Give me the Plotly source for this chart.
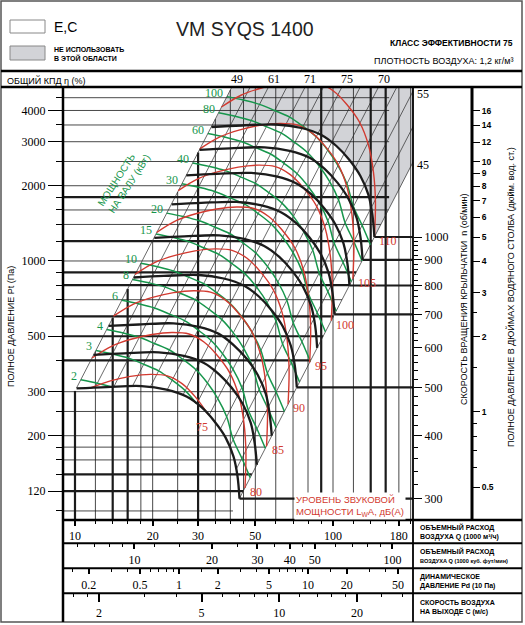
import numpy as np
import plotly.graph_objects as go

# ---------------- chart data (read from the VM SYQS 1400 sheet) ----------------
# flow Q in 1000 m3/h, total pressure Pt in Pa

# fan curves at constant speed n (rpm)
speeds = [300, 350, 400, 500, 600, 700, 800, 900, 1000]
speed_q = {
    300: [10.14, 13.26, 18.09, 22.62, 27.06, 30.93, 34.74, 38.31, 41.16, 42.63, 43.41],
    350: [11.8, 15.5, 21.1, 26.4, 31.6, 36.1, 40.5, 44.7, 48.0, 49.7, 50.7],
    400: [13.5, 17.7, 24.1, 30.2, 36.1, 41.2, 46.3, 51.1, 54.9, 56.8, 57.9],
    500: [16.9, 22.1, 30.2, 37.7, 45.1, 51.6, 57.9, 63.9, 68.6, 71.1, 72.4],
    600: [20.3, 26.5, 36.2, 45.2, 54.1, 61.9, 69.5, 76.6, 82.3, 85.3, 86.8],
    700: [23.7, 30.9, 42.2, 52.8, 63.1, 72.2, 81.1, 89.4, 96.0, 99.5, 101.3],
    800: [27.0, 35.4, 48.2, 60.3, 72.2, 82.5, 92.6, 102.2, 109.8, 113.7, 115.8],
    900: [30.4, 39.8, 54.3, 67.9, 81.2, 92.8, 104.2, 114.9, 123.5, 127.9, 130.2],
    1000: [33.8, 44.2, 60.3, 75.4, 90.2, 103.1, 115.8, 127.7, 137.2, 142.1, 144.7],
}
speed_p = {
    300: [309, 313, 316, 306, 287, 260, 228, 197, 165, 138, 112],
    350: [421, 427, 431, 417, 391, 353, 311, 268, 225, 187, 153],
    400: [550, 557, 563, 545, 511, 461, 406, 350, 294, 244, 200],
    500: [859, 871, 879, 851, 798, 721, 634, 547, 459, 382, 312],
    600: [1237, 1254, 1266, 1225, 1149, 1038, 913, 788, 661, 550, 449],
    700: [1684, 1707, 1723, 1668, 1564, 1413, 1242, 1072, 900, 749, 611],
    800: [2199, 2229, 2250, 2179, 2043, 1846, 1622, 1400, 1176, 978, 798],
    900: [2783, 2821, 2848, 2757, 2586, 2336, 2053, 1772, 1488, 1238, 1010],
    1000: [3436, 3483, 3516, 3404, 3192, 2884, 2535, 2188, 1837, 1528, 1247],
}
speeds_to_scale = [300, 500, 700, 800, 900, 1000]

# shaft power lines (kW)
power_kw = [2, 3, 4, 6, 8, 10, 15, 20, 30, 40, 60, 80, 100]
power_q = {
    2: [10.53, 12.21, 13.88],
    3: [12.05, 13.97, 16.13, 18.46, 21.09, 23.80, 26.74, 29.6],
    4: [13.27, 15.38, 17.75, 20.32, 23.22, 26.20, 29.44, 32.61, 35.77, 38.72, 41.04, 44.34, 47.75],
    6: [15.19, 17.60, 20.32, 23.26, 26.58, 29.99, 33.69, 37.33, 40.94, 44.32, 46.98, 50.76, 54.66],
    8: [16.72, 19.38, 22.37, 25.60, 29.25, 33.01, 37.09, 41.09, 45.07, 48.78, 51.71, 55.87, 60.16],
    10: [18.01, 20.87, 24.09, 27.58, 31.51, 35.56, 39.95, 44.26, 48.55, 52.55, 55.70, 60.18, 64.80],
    15: [20.61, 23.89, 27.58, 31.57, 36.07, 40.70, 45.73, 50.66, 55.57, 60.15, 63.76, 68.89, 74.18],
    20: [22.68, 26.29, 30.36, 34.75, 39.70, 44.79, 50.33, 55.76, 61.16, 66.20, 70.17, 75.82, 81.64],
    30: [25.97, 30.10, 34.75, 39.78, 45.45, 51.28, 57.62, 63.83, 70.01, 75.78, 80.33, 86.80, 93.46],
    40: [28.58, 33.13, 38.25, 43.78, 50.02, 56.44, 63.41, 70.25, 77.06, 83.41, 88.42, 95.53, 102.87],
    60: [32.72, 37.92, 43.78, 50.11, 57.26, 64.61, 72.59, 80.42, 88.21, 95.48, 101.21, 109.36, 117.75],
    80: [36.01, 41.74, 48.19, 55.16, 63.02, 71.11, 79.90, 88.51, 97.09, 105.09, 111.40, 120.37, 129.61],
    100: [38.79, 44.96, 51.91, 59.42, 67.89, 76.60, 86.07, 95.35, 104.59, 113.21, 120.00, 129.66, 139.61],
}
power_p = {
    2: [334.9, 324.4, 313.4],
    3: [438.8, 425.1, 408.7, 386.1, 363.5, 333.5, 303.0, 268.5],
    4: [531.5, 515.0, 495.1, 467.7, 440.4, 403.9, 367.1, 324.8, 281.7, 238.2, 193.1, 162.4, 135.9],
    6: [696.5, 674.8, 648.8, 612.9, 577.1, 529.3, 481.0, 425.6, 369.2, 312.2, 253.0, 212.8, 178.1],
    8: [843.8, 817.5, 786.0, 742.5, 699.1, 641.3, 582.7, 515.6, 447.2, 378.2, 306.5, 257.8, 215.7],
    10: [979.1, 948.5, 911.9, 861.5, 811.2, 744.0, 676.1, 598.3, 518.9, 438.8, 355.6, 299.1, 250.3],
    15: [1283, 1243, 1195, 1129, 1063, 975, 886, 784, 680, 575, 466, 392, 328],
    20: [1554, 1506, 1448, 1368, 1288, 1181, 1073, 950, 824, 697, 565, 475, 397],
    30: [2037, 1973, 1897, 1792, 1687, 1548, 1406, 1245, 1079, 913, 740, 622, 521],
    40: [2467, 2390, 2298, 2171, 2044, 1875, 1704, 1508, 1308, 1106, 896, 754, 631],
    60: [3233, 3132, 3011, 2845, 2679, 2457, 2233, 1976, 1714, 1449, 1174, 988, 827],
    80: [3917, 3795, 3648, 3447, 3245, 2977, 2705, 2393, 2076, 1755, 1423, 1197, 1001],
    100: [4545, 4403, 4233, 3999, 3765, 3454, 3138, 2777, 2409, 2037, 1651, 1389, 1162],
}

# sound power level lines LwA, dB(A)
sound_db = [75, 80, 85, 90, 95, 100, 105, 110]
sound_q = {
    75: [11.47, 13.71, 16.39, 19.59, 22.79, 26.07, 29.27, 32.8],
    80: [11.63, 13.90, 16.62, 19.87, 23.75, 27.64, 31.61, 35.49, 39.85, 43.19, 45.17, 45.98, 45.57],
    85: [14.10, 16.86, 20.15, 24.09, 28.80, 33.51, 38.32, 43.03, 48.32, 52.37, 54.76, 55.74, 55.25],
    90: [17.09, 20.43, 24.43, 29.20, 34.91, 40.62, 46.45, 52.16, 58.56, 63.47, 66.37, 67.57, 66.96],
    95: [20.72, 24.77, 29.62, 35.40, 42.32, 49.25, 56.32, 63.24, 71.00, 76.95, 80.47, 81.92, 81.19],
    100: [25.13, 30.04, 35.92, 42.94, 51.33, 59.73, 68.30, 76.69, 86.11, 93.33, 97.60, 99.35, 98.47],
    105: [30.47, 36.43, 43.55, 52.06, 62.24, 72.42, 82.82, 92.99, 104.41, 113.17, 118.33, 120.46, 119.39],
    110: [36.94, 44.16, 52.80, 63.11, 75.45, 87.80, 100.40, 112.74, 126.58, 137.20, 143.46, 146.04, 144.74],
}
sound_p = {
    75: [310.7, 331.4, 345.4, 351.8, 347.0, 322.4, 286.0, 243.5],
    80: [409.0, 456.8, 487.2, 507.9, 517.3, 510.2, 473.9, 420.5, 356.2, 288.2, 224.7, 170.5, 123.5],
    85: [601.4, 671.7, 716.4, 746.8, 760.6, 750.2, 696.9, 618.2, 523.8, 423.8, 330.5, 250.7, 181.6],
    90: [884.1, 987.4, 1053, 1098, 1118, 1103, 1025, 908.9, 770.0, 623.0, 485.8, 368.6, 267.0],
    95: [1300, 1452, 1549, 1614, 1644, 1622, 1506, 1336, 1132, 916.1, 714.4, 542.0, 392.6],
    100: [1911, 2134, 2276, 2373, 2417, 2384, 2215, 1965, 1665, 1347, 1050, 796.7, 577.1],
    105: [2809, 3137, 3346, 3488, 3553, 3504, 3255, 2888, 2447, 1980, 1544, 1171, 848.3],
    110: [4130, 4613, 4920, 5128, 5223, 5152, 4786, 4246, 3597, 2910, 2269, 1722, 1247],
}

# system lines Pt = k * Q^2 and total efficiency (%) printed at their ends
eff_k = [3.020, 2.178, 1.570, 1.132, 0.8166, 0.5888, 0.4236, 0.3055, 0.2203, 0.1589, 0.1146, 0.0826, 0.0596]
eff_labels = ["49", "", "61", "", "71", "", "75", "", "70", "", "55", "", "45"]

# grid
grid_q = [10, 12, 14, 16, 18, 20, 25, 30, 35, 40, 45, 50, 60, 70, 80, 90, 100, 120, 140, 160, 180, 200]
grid_q_bold = [10, 14, 16, 30, 90, 140, 160]
grid_p = [100, 120, 140, 160, 180, 200, 250, 300, 400, 500, 600, 700, 800, 900, 1000,
          1200, 1400, 1600, 1800, 2000, 2500, 3000, 3500, 4000, 4500]
grid_p_bold = [120, 140, 400, 500, 600, 800, 900, 1200, 1800]
grid_p_stop_q = 165

# scales
p_ticks = [120, 200, 300, 500, 1000, 2000, 3000, 4000]
rpm_ticks = [300, 400, 500, 600, 700, 800, 900, 1000]
rpm_minor = [320, 340, 360, 380, 420, 440, 460, 480, 520, 540, 560, 580, 620, 640, 660, 680,
             720, 740, 760, 780, 820, 840, 860, 880, 920, 940, 960, 980]
inch_ticks = [0.5, 1, 2, 3, 4, 5, 6, 7, 8, 9, 10, 12, 14, 16]
inch_labels = ["0.5", "1", "2", "3", "4", "5", "6", "7", "8", "9", "10", "12", "14", "16"]
inch_minor = [0.6, 0.7, 0.8, 0.9, 1.5, 2.5]
q_ticks = [10, 20, 30, 50, 100, 180]
q_minor = [12, 14, 16, 18, 25, 35, 40, 45, 60, 70, 80, 90, 120, 140, 160, 200]
cfm_ticks = [10, 20, 30, 40, 50, 100]
cfm_minor = [6, 7, 8, 9, 12, 15, 25, 35, 45, 60, 70, 80, 90]
pd_ticks = [0.2, 0.5, 1, 2, 5, 10, 20, 50]
pd_labels = ["0.2", "0.5", "1", "2", "5", "10", "20", "50"]
pd_minor = [0.15, 0.3, 0.4, 0.6, 0.7, 0.8, 0.9, 1.5, 3, 4, 6, 7, 8, 9, 15, 30, 40]
c_ticks = [2, 5, 10, 20]
c_minor = [1.6, 1.8, 3, 4, 6, 7, 8, 9, 12, 14, 16, 18, 25, 30]

Q_LIM = (8.985, 204.2)
P_LIM = (92.0, 4966.0)
RHO = 1.2
OUTLET_AREA = 1.72      # m2
PA_PER_INCH = 249.09
M3H_PER_CFM = 1.69901

# ---------------- layout constants ----------------
W, H = 525, 625
PX_L, PX_R, PX_T, PX_B = 63, 413, 87, 520
SERIF = "Liberation Serif"
SANS = "Liberation Sans"
INK = "#1b1b1b"
GREEN = "#17964c"
RED = "#d23a30"
SHADE = "#d2d3d7"


def px(x):
    return x / W


def py(y):
    return 1 - y / H


lq = np.log10(Q_LIM)
lp = np.log10(P_LIM)
rpm_range = 3 + 0.5 * (lp - np.log10(speed_p[1000][-1]))
inch_range = lp - np.log10(PA_PER_INCH)
cfm_range = lq - np.log10(M3H_PER_CFM)
c_range = lq + np.log10(1000 / 3600 / OUTLET_AREA)
pd_range = np.log10(0.5 * RHO / 10) + 2 * c_range

k_stall, k_end = eff_k[0], eff_k[-1]

fig = go.Figure()


def add_line(xs, ys, color, width, shape="linear"):
    fig.add_trace(go.Scatter(x=xs, y=ys, mode="lines", hoverinfo="skip", showlegend=False,
                             line=dict(color=color, width=width, shape=shape)))


# "do not use" zone above the 1000 rpm curve
far_q, far_p = 400, 2e4
fig.add_trace(go.Scatter(
    x=speed_q[1000] + [far_q, far_q, np.sqrt(far_p / k_stall)],
    y=speed_p[1000] + [k_end * far_q ** 2, far_p, far_p],
    fill="toself", fillcolor=SHADE, mode="lines", line=dict(width=0),
    hoverinfo="skip", showlegend=False))

# vertical grid: from bottom up to the stall line
for bold in (False, True):
    xs, ys = [], []
    for q in grid_q:
        if (q in grid_q_bold) != bold:
            continue
        xs += [q, q, None]
        ys += [P_LIM[0] * 0.9, min(k_stall * q * q, P_LIM[1] * 1.3), None]
    add_line(xs, ys, INK, 2.2 if bold else 0.8)

# horizontal grid: from the axis up to the last system line
for bold in (False, True):
    xs, ys = [], []
    for p in grid_p:
        if (p in grid_p_bold) != bold:
            continue
        xs += [Q_LIM[0] * 0.9, min(grid_p_stop_q, np.sqrt(p / k_end)), None]
        ys += [p, p, None]
    add_line(xs, ys, INK, 2.2 if bold else 0.8)

# system lines, starting on the 300 rpm curve
lq300 = np.log10(speed_q[300])
b300 = np.log10(speed_p[300]) - 2 * lq300
xs, ys = [], []
for k in eff_k:
    q0 = 10 ** np.interp(np.log10(k), b300[::-1], lq300[::-1])
    q1 = np.sqrt(3e4 / k)
    xs += [q0, q1, None]
    ys += [k * q0 ** 2, k * q1 ** 2, None]
add_line(xs, ys, "#2a2a2a", 0.7)

# curve ends carried across to the rpm scale
xs, ys = [], []
for n in speeds_to_scale:
    xs += [speed_q[n][-1], 300, None]
    ys += [speed_p[n][-1], speed_p[n][-1], None]
add_line(xs, ys, INK, 2.2)

for w in power_kw:
    add_line(power_q[w], power_p[w], GREEN, 1.5, "spline")
for db in sound_db:
    add_line(sound_q[db], sound_p[db], RED, 1.4, "spline")
for n in speeds:
    add_line(speed_q[n], speed_p[n], INK, 2.3, "spline")

# invisible anchors so the extra scales are drawn
for ax, rng in (("x2", lq), ("x3", cfm_range), ("x4", pd_range), ("x5", c_range)):
    fig.add_trace(go.Scatter(x=[10 ** rng.mean()], y=[1000], xaxis=ax, yaxis="y", mode="markers",
                             marker=dict(opacity=0), hoverinfo="skip", showlegend=False))
for ax, rng in (("y2", rpm_range), ("y3", inch_range)):
    fig.add_trace(go.Scatter(x=[30], y=[10 ** rng.mean()], xaxis="x", yaxis=ax, mode="markers",
                             marker=dict(opacity=0), hoverinfo="skip", showlegend=False))

# ---------------- annotations ----------------
ann = []


def note(text, x, y, size, color="black", family=SANS, xanchor="center", angle=0, bold=False, **kw):
    ann.append(dict(text=text, x=x, y=y, xref="paper", yref="paper", xanchor=xanchor, yanchor="middle",
                    showarrow=False, textangle=angle, align="left",
                    font=dict(family=family, size=size, color=color, weight="bold" if bold else "normal"), **kw))


def mark(text, q, p, color, xanchor="left", xshift=0, yshift=0):
    ann.append(dict(text=text, x=np.log10(q), y=np.log10(p), xref="x", yref="y", xanchor=xanchor,
                    yanchor="middle", showarrow=False, xshift=xshift, yshift=yshift,
                    font=dict(family=SERIF, size=12, color=color)))


for w in power_kw:
    mark(str(w), power_q[w][0], power_p[w][0], GREEN, "right", -2, 4)
for db in sound_db:
    if db == sound_db[0]:
        mark(str(db), sound_q[db][-1], sound_p[db][-1], RED, "center", -6, -13)
    else:
        mark(str(db), sound_q[db][-1], sound_p[db][-1], RED, "left", 3, -4)

for k, lab in zip(eff_k, eff_labels):
    if not lab:
        continue
    q_top = np.sqrt(P_LIM[1] / k)
    if q_top <= Q_LIM[1]:
        ann.append(dict(text=lab, x=np.log10(q_top), y=py(79), xref="x", yref="paper", showarrow=False,
                        xanchor="center", yanchor="middle", xshift=5,
                        font=dict(family=SERIF, size=12, color="black")))
    else:
        ann.append(dict(text=lab, x=px(PX_R + 2), y=np.log10(k * Q_LIM[1] ** 2), xref="paper", yref="y",
                        xanchor="left", yanchor="middle", showarrow=False, yshift=-3,
                        font=dict(family=SERIF, size=12, color="black")))

note("VM SYQS 1400", px(245), py(29), 19.5, color="#222")
note("Е,С", px(52), py(27), 14, xanchor="left")
note("НЕ ИСПОЛЬЗОВАТЬ<br>В ЭТОЙ ОБЛАСТИ", px(52), py(54), 7, xanchor="left", bold=True)
note("КЛАСС ЭФФЕКТИВНОСТИ 75", px(515), py(43), 8.5, xanchor="right", bold=True)
note("ПЛОТНОСТЬ ВОЗДУХА: 1,2 кг/м³", px(515), py(61), 9, xanchor="right")
note("ОБЩИЙ КПД η (%)", px(5), py(80), 9, xanchor="left")
note("ПОЛНОЕ ДАВЛЕНИЕ Pt (Па)", px(11), py(327), 9, angle=-90)
note("СКОРОСТЬ ВРАЩЕНИЯ КРЫЛЬЧАТКИ  n (об/мин)", px(464), py(299), 9, angle=-90)
note("ПОЛНОЕ ДАВЛЕНИЕ В ДЮЙМАХ ВОДЯНОГО СТОЛБА (дюйм. вод. ст.)", px(510), py(297), 9, angle=-90)
note("МОЩНОСТЬ<br>НА ВАЛУ (кВт)", px(124), py(180), 10, color=GREEN, angle=-57)
note("УРОВЕНЬ ЗВУКОВОЙ<br>МОЩНОСТИ L<sub>W</sub>A, дБ(A)", px(294), py(506), 9.5, color=RED,
     xanchor="left", bgcolor="white", borderpad=1)
note("ОБЪЕМНЫЙ РАСХОД<br>ВОЗДУХА Q (1000 м³/ч)", px(418), py(531.5), 7, xanchor="left", bold=True)
note("ОБЪЕМНЫЙ РАСХОД", px(418), py(551), 7, xanchor="left", bold=True)
note("ВОЗДУХА Q (1000 куб. фут/мин)", px(418), py(561), 5.6, xanchor="left", bold=True)
note("ДИНАМИЧЕСКОЕ<br>ДАВЛЕНИЕ Pd (10 Па)", px(418), py(581), 7, xanchor="left", bold=True)
note("СКОРОСТЬ ВОЗДУХА<br>НА ВЫХОДЕ C (м/с)", px(418), py(607), 7, xanchor="left", bold=True)

# ---------------- frame ----------------
shapes = []


def rule(x0, y0, x1, y1, width, color="black"):
    shapes.append(dict(type="line", xref="paper", yref="paper", x0=px(x0), y0=py(y0), x1=px(x1), y1=py(y1),
                       line=dict(color=color, width=width)))


shapes.append(dict(type="rect", xref="paper", yref="paper", x0=px(1), y0=py(622), x1=px(522), y1=py(1),
                   line=dict(color="#555", width=1.5)))
shapes.append(dict(type="rect", xref="paper", yref="paper", x0=px(10), y0=py(33), x1=px(45), y1=py(20),
                   line=dict(color="#888", width=1), fillcolor="white"))
shapes.append(dict(type="rect", xref="paper", yref="paper", x0=px(10), y0=py(60), x1=px(45), y1=py(46),
                   line=dict(color="#888", width=1), fillcolor=SHADE))
rule(1, 71, 522, 71, 2.5)
rule(1, 87, 522, 87, 2.5)
rule(PX_L, PX_T, PX_L, 622, 2.5)
rule(PX_R, PX_T, PX_R, 622, 1.8)
rule(472, PX_T, 472, PX_B, 3)
rule(PX_L, PX_B, 522, PX_B, 2.5)
for yy in (543.3, 568.3, 593.3):
    rule(PX_L, yy, 522, yy, 2)

tick_font = dict(family=SERIF, size=12, color="black")
plain = dict(showgrid=False, zeroline=False, showline=False)


def scale_x(rng, pos, vals, minor, text=None, ticklen=5):
    return dict(type="log", overlaying="x", anchor="free", position=pos, side="bottom", range=list(rng),
                tickvals=vals, ticktext=text or [str(v) for v in vals], ticks="outside", ticklen=ticklen,
                tickwidth=1.5, tickcolor="black", tickfont=tick_font,
                minor=dict(tickvals=minor, ticks="outside", ticklen=3, tickwidth=1, tickcolor="black"), **plain)


fig.update_layout(
    width=W, height=H, autosize=False,
    margin=dict(l=0, r=0, t=0, b=0, pad=0),
    paper_bgcolor="white", plot_bgcolor="white", showlegend=False,
    xaxis=dict(type="log", range=list(lq), domain=[px(PX_L), px(PX_R)], showticklabels=False, ticks="", **plain),
    yaxis=dict(type="log", range=list(lp), domain=[py(PX_B), py(PX_T)], tickvals=p_ticks,
               ticktext=[str(v) for v in p_ticks], ticks="outside", ticklen=14, tickwidth=1, tickcolor="black",
               tickfont=tick_font,
               minor=dict(tickvals=[p for p in grid_p if p not in p_ticks], ticks="outside", ticklen=6,
                          tickwidth=1, tickcolor="black"), **plain),
    yaxis2=dict(type="log", overlaying="y", anchor="free", position=px(PX_R), side="right", range=list(rpm_range),
                tickvals=rpm_ticks, ticktext=[str(v) for v in rpm_ticks], ticks="outside", ticklen=8,
                tickwidth=1.2, tickcolor="black", tickfont=tick_font,
                minor=dict(tickvals=rpm_minor, ticks="outside", ticklen=4, tickwidth=1, tickcolor="black"), **plain),
    yaxis3=dict(type="log", overlaying="y", anchor="free", position=px(472), side="right", range=list(inch_range),
                tickvals=inch_ticks, ticktext=inch_labels, ticks="outside", ticklen=7, tickwidth=1,
                tickcolor="black", tickfont=dict(family=SANS, size=8.5, color="black", weight="bold"),
                minor=dict(tickvals=inch_minor, ticks="outside", ticklen=4, tickwidth=1, tickcolor="black"), **plain),
    xaxis2=scale_x(lq, py(PX_B), q_ticks, q_minor),
    xaxis3=scale_x(cfm_range, py(543.3), cfm_ticks, cfm_minor),
    xaxis4=scale_x(pd_range, py(568.3), pd_ticks, pd_minor, pd_labels),
    xaxis5=scale_x(c_range, py(593.3), c_ticks, c_minor, ticklen=8),
    annotations=ann,
    shapes=shapes,
)

fig.write_html("out.html", config={"displayModeBar": False},
               post_script="document.body.style.margin='0px';")
